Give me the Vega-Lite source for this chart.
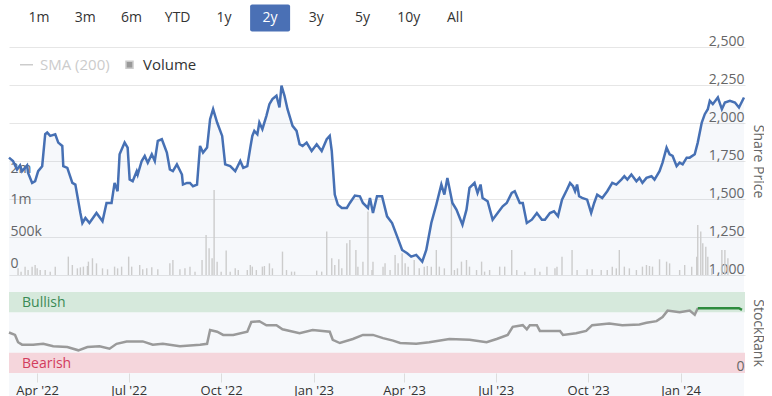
{
  "$schema": "https://vega.github.io/schema/vega-lite/v6.json",
  "padding": {"left": 4, "top": 4, "right": 0, "bottom": 0},
  "spacing": 17,
  "bounds": "flush",
  "background": "white",
  "resolve": {"scale": {"color": "independent", "fill": "independent", "stroke": "independent"}, "legend": {"color": "independent", "fill": "independent", "stroke": "independent"}},
  "config": {
    "font": "Open Sans",
    "view": {"stroke": null},
    "axis": {"labelFont": "Open Sans", "titleFont": "Open Sans"},
    "legend": {"labelFont": "Open Sans"}
  },
  "datasets": {
    "buttons": [
      {"label": "1m", "selected": false}, {"label": "3m", "selected": false}, {"label": "6m", "selected": false},
      {"label": "YTD", "selected": false}, {"label": "1y", "selected": false}, {"label": "2y", "selected": true},
      {"label": "3y", "selected": false}, {"label": "5y", "selected": false}, {"label": "10y", "selected": false},
      {"label": "All", "selected": false}
    ],
    "price": [
      {"date": "2022-03-04", "price": 1772}, {"date": "2022-03-08", "price": 1750}, {"date": "2022-03-12", "price": 1694},
      {"date": "2022-03-15", "price": 1721}, {"date": "2022-03-17", "price": 1683}, {"date": "2022-03-22", "price": 1721},
      {"date": "2022-03-23", "price": 1672}, {"date": "2022-03-27", "price": 1606}, {"date": "2022-03-30", "price": 1617},
      {"date": "2022-04-02", "price": 1683}, {"date": "2022-04-06", "price": 1716}, {"date": "2022-04-09", "price": 1926},
      {"date": "2022-04-11", "price": 1937}, {"date": "2022-04-14", "price": 1915}, {"date": "2022-04-19", "price": 1926},
      {"date": "2022-04-22", "price": 1871}, {"date": "2022-04-26", "price": 1849}, {"date": "2022-04-27", "price": 1716},
      {"date": "2022-05-01", "price": 1705}, {"date": "2022-05-06", "price": 1606}, {"date": "2022-05-09", "price": 1595},
      {"date": "2022-05-14", "price": 1408}, {"date": "2022-05-16", "price": 1342}, {"date": "2022-05-19", "price": 1375},
      {"date": "2022-05-23", "price": 1342}, {"date": "2022-05-30", "price": 1408}, {"date": "2022-06-05", "price": 1353},
      {"date": "2022-06-09", "price": 1474}, {"date": "2022-06-14", "price": 1474}, {"date": "2022-06-17", "price": 1606},
      {"date": "2022-06-20", "price": 1551}, {"date": "2022-06-22", "price": 1794}, {"date": "2022-06-27", "price": 1871},
      {"date": "2022-06-30", "price": 1838}, {"date": "2022-07-02", "price": 1628}, {"date": "2022-07-05", "price": 1617},
      {"date": "2022-07-09", "price": 1683}, {"date": "2022-07-10", "price": 1661}, {"date": "2022-07-14", "price": 1750},
      {"date": "2022-07-17", "price": 1783}, {"date": "2022-07-20", "price": 1739}, {"date": "2022-07-24", "price": 1794},
      {"date": "2022-07-27", "price": 1750}, {"date": "2022-07-30", "price": 1882}, {"date": "2022-08-03", "price": 1893},
      {"date": "2022-08-08", "price": 1805}, {"date": "2022-08-11", "price": 1694}, {"date": "2022-08-14", "price": 1683},
      {"date": "2022-08-18", "price": 1728}, {"date": "2022-08-23", "price": 1661}, {"date": "2022-08-24", "price": 1595},
      {"date": "2022-08-28", "price": 1606}, {"date": "2022-08-31", "price": 1606}, {"date": "2022-09-03", "price": 1584},
      {"date": "2022-09-07", "price": 1595}, {"date": "2022-09-10", "price": 1849}, {"date": "2022-09-13", "price": 1805},
      {"date": "2022-09-17", "price": 1838}, {"date": "2022-09-20", "price": 2025}, {"date": "2022-09-23", "price": 2091},
      {"date": "2022-09-27", "price": 2003}, {"date": "2022-10-02", "price": 1915}, {"date": "2022-10-05", "price": 1728},
      {"date": "2022-10-10", "price": 1716}, {"date": "2022-10-15", "price": 1683}, {"date": "2022-10-20", "price": 1750},
      {"date": "2022-10-23", "price": 1705}, {"date": "2022-10-27", "price": 1716}, {"date": "2022-10-30", "price": 1838},
      {"date": "2022-11-01", "price": 1915}, {"date": "2022-11-03", "price": 1948}, {"date": "2022-11-06", "price": 1926},
      {"date": "2022-11-08", "price": 2003}, {"date": "2022-11-11", "price": 1959}, {"date": "2022-11-15", "price": 2047},
      {"date": "2022-11-18", "price": 2124}, {"date": "2022-11-21", "price": 2157}, {"date": "2022-11-25", "price": 2179},
      {"date": "2022-11-28", "price": 2102}, {"date": "2022-11-30", "price": 2246}, {"date": "2022-12-03", "price": 2179},
      {"date": "2022-12-06", "price": 2091}, {"date": "2022-12-11", "price": 1981}, {"date": "2022-12-15", "price": 1948},
      {"date": "2022-12-18", "price": 1860}, {"date": "2022-12-21", "price": 1849}, {"date": "2022-12-25", "price": 1871},
      {"date": "2022-12-30", "price": 1816}, {"date": "2023-01-04", "price": 1860}, {"date": "2023-01-09", "price": 1816},
      {"date": "2023-01-14", "price": 1893}, {"date": "2023-01-17", "price": 1915}, {"date": "2023-01-19", "price": 1816},
      {"date": "2023-01-22", "price": 1529}, {"date": "2023-01-25", "price": 1463}, {"date": "2023-01-29", "price": 1441},
      {"date": "2023-02-03", "price": 1441}, {"date": "2023-02-06", "price": 1474}, {"date": "2023-02-11", "price": 1523},
      {"date": "2023-02-16", "price": 1518}, {"date": "2023-02-19", "price": 1474}, {"date": "2023-02-24", "price": 1441},
      {"date": "2023-02-26", "price": 1507}, {"date": "2023-03-01", "price": 1408}, {"date": "2023-03-05", "price": 1518},
      {"date": "2023-03-10", "price": 1518}, {"date": "2023-03-15", "price": 1386}, {"date": "2023-03-20", "price": 1342},
      {"date": "2023-03-25", "price": 1254}, {"date": "2023-03-30", "price": 1165}, {"date": "2023-04-04", "price": 1143},
      {"date": "2023-04-08", "price": 1121}, {"date": "2023-04-13", "price": 1132}, {"date": "2023-04-19", "price": 1088},
      {"date": "2023-04-23", "price": 1165}, {"date": "2023-04-28", "price": 1342}, {"date": "2023-05-03", "price": 1463},
      {"date": "2023-05-08", "price": 1595}, {"date": "2023-05-11", "price": 1529}, {"date": "2023-05-14", "price": 1639},
      {"date": "2023-05-19", "price": 1474}, {"date": "2023-05-23", "price": 1430}, {"date": "2023-05-29", "price": 1331},
      {"date": "2023-06-02", "price": 1430}, {"date": "2023-06-05", "price": 1573}, {"date": "2023-06-10", "price": 1606},
      {"date": "2023-06-13", "price": 1540}, {"date": "2023-06-16", "price": 1595}, {"date": "2023-06-18", "price": 1507},
      {"date": "2023-06-23", "price": 1485}, {"date": "2023-06-28", "price": 1364}, {"date": "2023-07-03", "price": 1408},
      {"date": "2023-07-08", "price": 1452}, {"date": "2023-07-12", "price": 1474}, {"date": "2023-07-17", "price": 1540},
      {"date": "2023-07-20", "price": 1551}, {"date": "2023-07-25", "price": 1474}, {"date": "2023-07-28", "price": 1474},
      {"date": "2023-08-01", "price": 1342}, {"date": "2023-08-06", "price": 1364}, {"date": "2023-08-11", "price": 1408},
      {"date": "2023-08-16", "price": 1364}, {"date": "2023-08-19", "price": 1364}, {"date": "2023-08-24", "price": 1408},
      {"date": "2023-08-28", "price": 1419}, {"date": "2023-09-01", "price": 1386}, {"date": "2023-09-05", "price": 1496},
      {"date": "2023-09-10", "price": 1562}, {"date": "2023-09-13", "price": 1606}, {"date": "2023-09-16", "price": 1584},
      {"date": "2023-09-18", "price": 1551}, {"date": "2023-09-20", "price": 1595}, {"date": "2023-09-22", "price": 1518},
      {"date": "2023-09-25", "price": 1507}, {"date": "2023-09-30", "price": 1496}, {"date": "2023-10-04", "price": 1408},
      {"date": "2023-10-07", "price": 1474}, {"date": "2023-10-10", "price": 1529}, {"date": "2023-10-15", "price": 1507},
      {"date": "2023-10-20", "price": 1551}, {"date": "2023-10-25", "price": 1606}, {"date": "2023-10-29", "price": 1595},
      {"date": "2023-11-03", "price": 1628}, {"date": "2023-11-06", "price": 1650}, {"date": "2023-11-09", "price": 1628},
      {"date": "2023-11-13", "price": 1661}, {"date": "2023-11-18", "price": 1617}, {"date": "2023-11-21", "price": 1639},
      {"date": "2023-11-24", "price": 1606}, {"date": "2023-11-28", "price": 1639}, {"date": "2023-12-03", "price": 1650},
      {"date": "2023-12-06", "price": 1628}, {"date": "2023-12-11", "price": 1683}, {"date": "2023-12-14", "price": 1739},
      {"date": "2023-12-18", "price": 1838}, {"date": "2023-12-21", "price": 1794}, {"date": "2023-12-24", "price": 1783},
      {"date": "2023-12-28", "price": 1716}, {"date": "2023-12-31", "price": 1739}, {"date": "2024-01-03", "price": 1728},
      {"date": "2024-01-07", "price": 1772}, {"date": "2024-01-10", "price": 1772}, {"date": "2024-01-15", "price": 1794},
      {"date": "2024-01-18", "price": 1871}, {"date": "2024-01-22", "price": 2003}, {"date": "2024-01-25", "price": 2058},
      {"date": "2024-01-28", "price": 2091}, {"date": "2024-01-30", "price": 2146}, {"date": "2024-02-02", "price": 2124},
      {"date": "2024-02-07", "price": 2168}, {"date": "2024-02-11", "price": 2091}, {"date": "2024-02-14", "price": 2135},
      {"date": "2024-02-19", "price": 2146}, {"date": "2024-02-24", "price": 2135}, {"date": "2024-02-28", "price": 2102},
      {"date": "2024-03-04", "price": 2168}
    ],
    "volume": [
      {"date": "2022-03-13", "volume": 105000}, {"date": "2022-03-16", "volume": 53000}, {"date": "2022-03-20", "volume": 132000},
      {"date": "2022-03-23", "volume": 79000}, {"date": "2022-03-27", "volume": 132000}, {"date": "2022-03-30", "volume": 158000},
      {"date": "2022-04-01", "volume": 105000}, {"date": "2022-04-04", "volume": 79000}, {"date": "2022-04-09", "volume": 79000},
      {"date": "2022-04-14", "volume": 53000}, {"date": "2022-04-19", "volume": 132000}, {"date": "2022-05-02", "volume": 290000},
      {"date": "2022-05-06", "volume": 158000}, {"date": "2022-05-11", "volume": 105000}, {"date": "2022-05-14", "volume": 121000},
      {"date": "2022-05-17", "volume": 132000}, {"date": "2022-05-21", "volume": 142000}, {"date": "2022-05-22", "volume": 211000},
      {"date": "2022-05-26", "volume": 264000}, {"date": "2022-05-30", "volume": 184000}, {"date": "2022-06-05", "volume": 105000},
      {"date": "2022-06-10", "volume": 90000}, {"date": "2022-06-17", "volume": 132000}, {"date": "2022-06-20", "volume": 105000},
      {"date": "2022-06-24", "volume": 132000}, {"date": "2022-07-01", "volume": 290000}, {"date": "2022-07-04", "volume": 132000},
      {"date": "2022-07-12", "volume": 158000}, {"date": "2022-07-15", "volume": 90000}, {"date": "2022-07-19", "volume": 105000},
      {"date": "2022-07-24", "volume": 121000}, {"date": "2022-07-30", "volume": 90000}, {"date": "2022-08-11", "volume": 184000},
      {"date": "2022-08-14", "volume": 237000}, {"date": "2022-08-21", "volume": 90000}, {"date": "2022-08-26", "volume": 105000},
      {"date": "2022-08-31", "volume": 132000}, {"date": "2022-09-05", "volume": 53000}, {"date": "2022-09-12", "volume": 237000},
      {"date": "2022-09-16", "volume": 632000}, {"date": "2022-09-19", "volume": 422000}, {"date": "2022-09-22", "volume": 264000},
      {"date": "2022-09-24", "volume": 1344000}, {"date": "2022-09-27", "volume": 211000}, {"date": "2022-10-01", "volume": 53000},
      {"date": "2022-10-06", "volume": 385000}, {"date": "2022-10-10", "volume": 53000}, {"date": "2022-10-15", "volume": 105000},
      {"date": "2022-10-18", "volume": 79000}, {"date": "2022-10-27", "volume": 79000}, {"date": "2022-10-30", "volume": 158000},
      {"date": "2022-11-01", "volume": 132000}, {"date": "2022-11-05", "volume": 79000}, {"date": "2022-11-11", "volume": 132000},
      {"date": "2022-11-13", "volume": 142000}, {"date": "2022-11-18", "volume": 184000}, {"date": "2022-11-21", "volume": 105000},
      {"date": "2022-12-01", "volume": 369000}, {"date": "2022-12-05", "volume": 79000}, {"date": "2022-12-10", "volume": 53000},
      {"date": "2022-12-13", "volume": 53000}, {"date": "2023-01-04", "volume": 69000}, {"date": "2023-01-09", "volume": 53000},
      {"date": "2023-01-14", "volume": 685000}, {"date": "2023-01-19", "volume": 264000}, {"date": "2023-01-22", "volume": 158000},
      {"date": "2023-01-26", "volume": 248000}, {"date": "2023-01-29", "volume": 105000}, {"date": "2023-02-03", "volume": 500000},
      {"date": "2023-02-06", "volume": 553000}, {"date": "2023-02-12", "volume": 395000}, {"date": "2023-02-14", "volume": 132000},
      {"date": "2023-02-19", "volume": 211000}, {"date": "2023-02-24", "volume": 1001000}, {"date": "2023-02-28", "volume": 79000},
      {"date": "2023-03-01", "volume": 211000}, {"date": "2023-03-11", "volume": 132000}, {"date": "2023-03-13", "volume": 184000},
      {"date": "2023-03-18", "volume": 79000}, {"date": "2023-03-23", "volume": 316000}, {"date": "2023-03-26", "volume": 184000},
      {"date": "2023-03-30", "volume": 343000}, {"date": "2023-04-02", "volume": 184000}, {"date": "2023-04-05", "volume": 132000},
      {"date": "2023-04-11", "volume": 237000}, {"date": "2023-04-16", "volume": 105000}, {"date": "2023-04-21", "volume": 132000},
      {"date": "2023-04-24", "volume": 142000}, {"date": "2023-04-28", "volume": 132000}, {"date": "2023-05-03", "volume": 395000},
      {"date": "2023-05-06", "volume": 132000}, {"date": "2023-05-11", "volume": 105000}, {"date": "2023-05-18", "volume": 1238000},
      {"date": "2023-05-21", "volume": 79000}, {"date": "2023-05-24", "volume": 105000}, {"date": "2023-05-28", "volume": 211000},
      {"date": "2023-06-02", "volume": 237000}, {"date": "2023-06-05", "volume": 132000}, {"date": "2023-06-12", "volume": 79000},
      {"date": "2023-06-17", "volume": 211000}, {"date": "2023-06-20", "volume": 53000}, {"date": "2023-06-25", "volume": 79000},
      {"date": "2023-07-05", "volume": 132000}, {"date": "2023-07-10", "volume": 132000}, {"date": "2023-07-17", "volume": 395000},
      {"date": "2023-07-22", "volume": 79000}, {"date": "2023-07-30", "volume": 53000}, {"date": "2023-08-09", "volume": 105000},
      {"date": "2023-08-14", "volume": 53000}, {"date": "2023-08-21", "volume": 132000}, {"date": "2023-08-29", "volume": 105000},
      {"date": "2023-08-31", "volume": 132000}, {"date": "2023-09-05", "volume": 290000}, {"date": "2023-09-15", "volume": 395000},
      {"date": "2023-09-20", "volume": 79000}, {"date": "2023-09-30", "volume": 90000}, {"date": "2023-10-05", "volume": 90000},
      {"date": "2023-10-14", "volume": 79000}, {"date": "2023-10-20", "volume": 79000}, {"date": "2023-10-25", "volume": 132000},
      {"date": "2023-10-29", "volume": 105000}, {"date": "2023-11-01", "volume": 395000}, {"date": "2023-11-06", "volume": 132000},
      {"date": "2023-11-11", "volume": 105000}, {"date": "2023-11-18", "volume": 79000}, {"date": "2023-11-24", "volume": 132000},
      {"date": "2023-11-28", "volume": 158000}, {"date": "2023-12-01", "volume": 142000}, {"date": "2023-12-04", "volume": 132000},
      {"date": "2023-12-11", "volume": 248000}, {"date": "2023-12-18", "volume": 211000}, {"date": "2023-12-21", "volume": 184000},
      {"date": "2023-12-31", "volume": 79000}, {"date": "2024-01-05", "volume": 158000}, {"date": "2024-01-12", "volume": 132000},
      {"date": "2024-01-17", "volume": 290000}, {"date": "2024-01-18", "volume": 790000}, {"date": "2024-01-21", "volume": 685000},
      {"date": "2024-01-23", "volume": 500000}, {"date": "2024-01-26", "volume": 448000}, {"date": "2024-01-28", "volume": 290000},
      {"date": "2024-02-01", "volume": 105000}, {"date": "2024-02-11", "volume": 395000}, {"date": "2024-02-14", "volume": 395000},
      {"date": "2024-02-17", "volume": 264000}
    ],
    "rank": [
      {"date": "2022-03-04", "rank": 50, "seg": "a"}, {"date": "2022-03-10", "rank": 47, "seg": "a"}, {"date": "2022-03-13", "rank": 38, "seg": "a"},
      {"date": "2022-03-17", "rank": 35, "seg": "a"}, {"date": "2022-03-28", "rank": 35, "seg": "a"}, {"date": "2022-04-07", "rank": 36, "seg": "a"},
      {"date": "2022-04-17", "rank": 33, "seg": "a"}, {"date": "2022-05-01", "rank": 32, "seg": "a"}, {"date": "2022-05-12", "rank": 28, "seg": "a"},
      {"date": "2022-05-21", "rank": 32, "seg": "a"}, {"date": "2022-06-02", "rank": 33, "seg": "a"}, {"date": "2022-06-12", "rank": 30, "seg": "a"},
      {"date": "2022-06-19", "rank": 36, "seg": "a"}, {"date": "2022-06-29", "rank": 39, "seg": "a"}, {"date": "2022-07-15", "rank": 39, "seg": "a"},
      {"date": "2022-07-25", "rank": 35, "seg": "a"}, {"date": "2022-08-04", "rank": 36, "seg": "a"}, {"date": "2022-08-21", "rank": 33, "seg": "a"},
      {"date": "2022-09-10", "rank": 35, "seg": "a"}, {"date": "2022-09-17", "rank": 36, "seg": "a"}, {"date": "2022-09-20", "rank": 53, "seg": "a"},
      {"date": "2022-09-27", "rank": 51, "seg": "a"}, {"date": "2022-10-03", "rank": 47, "seg": "a"}, {"date": "2022-10-13", "rank": 47, "seg": "a"},
      {"date": "2022-10-27", "rank": 51, "seg": "a"}, {"date": "2022-10-31", "rank": 63, "seg": "a"}, {"date": "2022-11-08", "rank": 64, "seg": "a"},
      {"date": "2022-11-15", "rank": 59, "seg": "a"}, {"date": "2022-11-25", "rank": 59, "seg": "a"}, {"date": "2022-12-01", "rank": 54, "seg": "a"},
      {"date": "2022-12-18", "rank": 49, "seg": "a"}, {"date": "2022-12-31", "rank": 53, "seg": "a"}, {"date": "2023-01-17", "rank": 51, "seg": "a"},
      {"date": "2023-01-20", "rank": 41, "seg": "a"}, {"date": "2023-01-27", "rank": 37, "seg": "a"}, {"date": "2023-02-09", "rank": 42, "seg": "a"},
      {"date": "2023-02-19", "rank": 47, "seg": "a"}, {"date": "2023-03-01", "rank": 47, "seg": "a"}, {"date": "2023-03-11", "rank": 43, "seg": "a"},
      {"date": "2023-03-21", "rank": 40, "seg": "a"}, {"date": "2023-03-28", "rank": 37, "seg": "a"}, {"date": "2023-04-13", "rank": 36, "seg": "a"},
      {"date": "2023-04-26", "rank": 38, "seg": "a"}, {"date": "2023-05-16", "rank": 42, "seg": "a"}, {"date": "2023-06-05", "rank": 41, "seg": "a"},
      {"date": "2023-06-22", "rank": 38, "seg": "a"}, {"date": "2023-07-02", "rank": 42, "seg": "a"}, {"date": "2023-07-13", "rank": 47, "seg": "a"},
      {"date": "2023-07-18", "rank": 57, "seg": "a"}, {"date": "2023-07-28", "rank": 59, "seg": "a"}, {"date": "2023-08-01", "rank": 54, "seg": "a"},
      {"date": "2023-08-04", "rank": 59, "seg": "a"}, {"date": "2023-08-11", "rank": 59, "seg": "a"}, {"date": "2023-08-14", "rank": 52, "seg": "a"},
      {"date": "2023-09-03", "rank": 52, "seg": "a"}, {"date": "2023-09-06", "rank": 47, "seg": "a"}, {"date": "2023-09-19", "rank": 49, "seg": "a"},
      {"date": "2023-09-29", "rank": 52, "seg": "a"}, {"date": "2023-10-05", "rank": 59, "seg": "a"}, {"date": "2023-10-22", "rank": 61, "seg": "a"},
      {"date": "2023-11-04", "rank": 59, "seg": "a"}, {"date": "2023-11-21", "rank": 60, "seg": "a"}, {"date": "2023-11-28", "rank": 62, "seg": "a"},
      {"date": "2023-12-08", "rank": 64, "seg": "a"}, {"date": "2023-12-14", "rank": 69, "seg": "a"}, {"date": "2023-12-19", "rank": 77, "seg": "a"},
      {"date": "2023-12-31", "rank": 75, "seg": "a"}, {"date": "2024-01-10", "rank": 77, "seg": "a"}, {"date": "2024-01-15", "rank": 72, "seg": "a"},
      {"date": "2024-01-18", "rank": 80, "seg": "a"},
      {"date": "2024-01-18", "rank": 80, "seg": "b"}, {"date": "2024-01-30", "rank": 80, "seg": "b"}, {"date": "2024-02-12", "rank": 80, "seg": "b"},
      {"date": "2024-02-28", "rank": 80, "seg": "b"}, {"date": "2024-03-02", "rank": 78, "seg": "b"}
    ],
    "bands": [
      {"band": "Bullish", "lo": 75, "hi": 100},
      {"band": "Bearish", "lo": 0, "hi": 25}
    ]
  },
  "vconcat": [
    {
      "width": 476,
      "height": 24,
      "data": {"name": "buttons"},
      "encoding": {
        "x": {"field": "label", "type": "nominal", "scale": {"type": "point", "domain": ["1m", "3m", "6m", "YTD", "1y", "2y", "3y", "5y", "10y", "All"], "padding": 0.65}, "axis": null}
      },
      "layer": [
        {
          "transform": [{"filter": "datum.selected"}],
          "mark": {"type": "point", "shape": "M-0.9,-0.675L0.9,-0.675Q1,-0.675 1,-0.575L1,0.575Q1,0.675 0.9,0.675L-0.9,0.675Q-1,0.675 -1,0.575L-1,-0.575Q-1,-0.675 -0.9,-0.675Z", "filled": true, "size": 1600, "color": "#4a70b5", "opacity": 1, "strokeWidth": 0}
        },
        {
          "mark": {"type": "text", "fontSize": 14, "font": "Open Sans"},
          "encoding": {
            "text": {"field": "label"},
            "color": {"condition": {"test": "datum.selected", "value": "#ffffff"}, "value": "#333333"}
          }
        }
      ]
    },
    {
      "width": 736,
      "height": 228,
      "resolve": {"scale": {"y": "independent"}},
      "layer": [
        {
          "data": {"name": "price"},
          "mark": {"type": "area", "color": "#4670b4", "opacity": 0.05},
          "encoding": {
            "x": {"field": "date", "type": "temporal", "scale": {"type": "utc", "domain": [{"year": 2022, "month": 3, "date": 4, "utc": true}, {"year": 2024, "month": 3, "date": 5, "utc": true}]}, "axis": null},
            "y": {
              "field": "price", "type": "quantitative",
              "scale": {"domain": [1000, 2500], "zero": false, "nice": false},
              "axis": {
                "orient": "right", "values": [1000, 1250, 1500, 1750, 2000, 2250, 2500], "format": ",d",
                "grid": true, "gridColor": "#e6e6e6", "domain": false, "ticks": false, "tickSize": 0,
                "labelAlign": "right", "labelPadding": -1, "labelBaseline": "alphabetic", "labelOffset": -2,
                "labelFontSize": 14, "labelColor": "#666666",
                "title": "Share Price", "titleFontSize": 14, "titleFontWeight": "normal", "titleColor": "#666666", "titleAngle": 90, "titlePadding": 5
              }
            }
          }
        },
        {
          "data": {"name": "volume"},
          "mark": {"type": "rule", "strokeWidth": 1.4},
          "encoding": {
            "x": {"field": "date", "type": "temporal", "axis": null},
            "y": {
              "field": "volume", "type": "quantitative",
              "scale": {"domain": [0, 3600000], "nice": false},
              "axis": {
                "orient": "left", "values": [0, 500000, 1000000, 1500000],
                "labelExpr": "datum.value == 0 ? '0' : datum.value == 500000 ? '500k' : datum.value == 1000000 ? '1m' : '2m'",
                "grid": false, "domain": false, "ticks": false, "tickSize": 0,
                "labelAlign": "left", "labelPadding": -1, "labelBaseline": "alphabetic", "labelOffset": -8,
                "labelFontSize": 14, "labelColor": "#666666", "title": null
              }
            },
            "y2": {"datum": 0},
            "color": {
              "datum": "Volume", "type": "nominal",
              "scale": {"domain": ["SMA (200)", "Volume"], "range": ["#cccccc", "#cccccc"]},
              "legend": {
                "title": null, "orient": "top-left", "direction": "horizontal", "offset": 10, "padding": 0,
                "labelFontSize": 15, "labelColor": "#333333", "columnPadding": 12, "labelOffset": 6,
                "symbolSize": 169, "symbolStrokeWidth": 1.5,
                "encode": {
                  "symbols": {"update": {
                    "shape": {"signal": "datum.value === 'Volume' ? 'square' : 'stroke'"},
                    "fill": {"signal": "datum.value === 'Volume' ? '#999999' : 'transparent'"},
                    "stroke": {"signal": "datum.value === 'Volume' ? 'transparent' : '#cccccc'"},
                    "size": {"signal": "datum.value === 'Volume' ? 49 : 169"}
                  }},
                  "labels": {"update": {
                    "fill": {"signal": "datum.value === 'Volume' ? '#333333' : '#cccccc'"}
                  }}
                }
              }
            }
          }
        },
        {
          "data": {"name": "price"},
          "mark": {"type": "line", "color": "#4670b4", "strokeWidth": 2.5},
          "encoding": {
            "x": {"field": "date", "type": "temporal", "axis": null},
            "y": {"field": "price", "type": "quantitative", "scale": {"domain": [1000, 2500], "zero": false, "nice": false}, "axis": null}
          }
        }
      ]
    },
    {
      "width": 736,
      "height": 81,
      "layer": [
        {
          "data": {"name": "bands"},
          "mark": {"type": "rect"},
          "encoding": {
            "y": {
              "field": "lo", "type": "quantitative",
              "scale": {"domain": [0, 100], "nice": false, "zero": false},
              "axis": {
                "orient": "right", "values": [0], "grid": false, "domain": false, "ticks": false, "tickSize": 0, "zindex": 1,
                "labelAlign": "right", "labelPadding": -1, "labelBaseline": "alphabetic", "labelOffset": -3,
                "labelFontSize": 14, "labelColor": "#666666",
                "title": "StockRank", "titleFontSize": 14, "titleFontWeight": "normal", "titleColor": "#666666", "titleAngle": 90, "titlePadding": 5
              }
            },
            "y2": {"field": "hi"},
            "fill": {"field": "band", "type": "nominal", "scale": {"domain": ["Bullish", "Bearish"], "range": ["#d6e9dc", "#f5d6dc"]}, "legend": null}
          }
        },
        {
          "data": {"name": "bands"},
          "mark": {"type": "text", "align": "left", "baseline": "top", "dx": 13, "dy": 4, "fontSize": 14, "font": "Open Sans"},
          "encoding": {
            "x": {"datum": {"year": 2022, "month": 3, "date": 4, "utc": true}, "type": "temporal", "title": null},
            "y": {"field": "hi", "type": "quantitative", "title": "StockRank"},
            "text": {"field": "band"},
            "color": {"field": "band", "type": "nominal", "scale": {"domain": ["Bullish", "Bearish"], "range": ["#3a8a55", "#d23c5c"]}, "legend": null}
          }
        },
        {
          "data": {"name": "rank"},
          "mark": {"type": "line", "strokeWidth": 2.5},
          "encoding": {
            "x": {
              "field": "date", "type": "temporal",
              "scale": {"type": "utc", "domain": [{"year": 2022, "month": 3, "date": 4, "utc": true}, {"year": 2024, "month": 3, "date": 5, "utc": true}]},
              "axis": {
                "values": [
                  {"year": 2022, "month": 4, "date": 1, "utc": true}, {"year": 2022, "month": 7, "date": 1, "utc": true},
                  {"year": 2022, "month": 10, "date": 1, "utc": true}, {"year": 2023, "month": 1, "date": 1, "utc": true},
                  {"year": 2023, "month": 4, "date": 1, "utc": true}, {"year": 2023, "month": 7, "date": 1, "utc": true},
                  {"year": 2023, "month": 10, "date": 1, "utc": true}, {"year": 2024, "month": 1, "date": 1, "utc": true}
                ],
                "format": "%b '%y", "grid": false, "domain": false, "ticks": true, "tickSize": 9, "tickColor": "#dddddd",
                "labelPadding": 12, "labelBaseline": "alphabetic", "labelFontSize": 13, "labelColor": "#333333", "title": null
              }
            },
            "y": {"field": "rank", "type": "quantitative", "title": "StockRank"},
            "stroke": {"field": "seg", "type": "nominal", "scale": {"domain": ["a", "b"], "range": ["#9a9a9a", "#2e8b3e"]}, "legend": null}
          }
        }
      ]
    }
  ]
}
